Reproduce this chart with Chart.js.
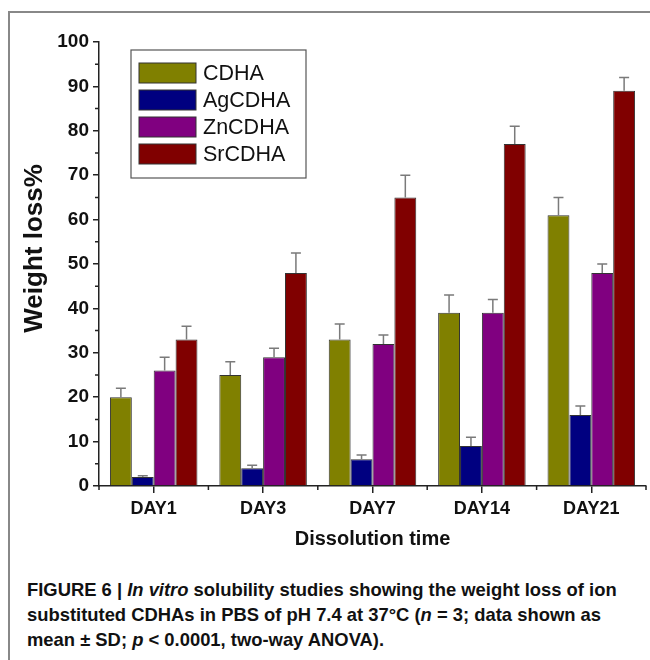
<!DOCTYPE html>
<html>
<head>
<meta charset="utf-8">
<script src="https://cdn.jsdelivr.net/npm/chart.js@4.4.1/dist/chart.umd.min.js"></script>
<style>
  body { margin: 0; background: #fff; }
  #frame { position: absolute; left: 8px; top: 11px; width: 660px; height: 660px;
           border-top: 2px solid #888; border-left: 2px solid #888; }
  #wrap { position: absolute; left: 0; top: 0; width: 650px; height: 560px; }
  #caption { position: absolute; left: 27px; top: 577px; width: 625px;
             font-family: "Liberation Sans", Arial, sans-serif; font-weight: bold;
             font-size: 18.4px; line-height: 25px; color: #111; white-space: nowrap; }
</style>
</head>
<body>
<div id="frame"></div>
<div id="wrap"><canvas id="context"></canvas></div>
<div id="caption">FIGURE 6 | <i>In vitro</i> solubility studies showing the weight loss of ion<br>substituted CDHAs in PBS of pH 7.4 at 37°C (<i>n</i> = 3; data shown as<br>mean ± SD; <i>p</i> &lt; 0.0001, two-way ANOVA).</div>
<script>
const days = ["DAY1", "DAY3", "DAY7", "DAY14", "DAY21"];
const cdha   = [20, 25, 33, 39, 61];
const agcdha = [2, 4, 6, 9, 16];
const zncdha = [26, 29, 32, 39, 48];
const srcdha = [33, 48, 65, 77, 89];
const cdhaSd   = [2, 3, 3.5, 4, 4];
const agcdhaSd = [0.3, 0.7, 1, 2, 2];
const zncdhaSd = [3, 2, 2, 3, 2];
const srcdhaSd = [3, 4.5, 5, 4, 3];
const yTitle = "Weight loss%";

const fnt = '"Liberation Sans", Arial, sans-serif';

// error bars, only the upper half like in the figure
const errBars = {
  id: 'errBars',
  afterDatasetsDraw(chart) {
    let c = chart.ctx, y = chart.scales.y;
    c.save();
    c.strokeStyle = '#7a7a7a';
    c.lineWidth = 1.5;
    chart.data.datasets.forEach((ds, i) => {
      let meta = chart.getDatasetMeta(i);
      meta.data.forEach((bar, j) => {
        let top = y.getPixelForValue(ds.data[j] + ds.sd[j]);
        c.beginPath();
        c.moveTo(bar.x, bar.y);
        c.lineTo(bar.x, top);
        c.moveTo(bar.x - 5, top);
        c.lineTo(bar.x + 5, top);
        c.stroke();
      });
    });
    c.restore();
  }
};

// minor ticks: between categories on x, at the 5s on y
const minorTicks = {
  id: 'minorTicks',
  afterDraw(chart) {
    let c = chart.ctx, x = chart.scales.x, y = chart.scales.y, a = chart.chartArea;
    c.save();
    c.strokeStyle = '#222';
    c.lineWidth = 1.5;
    c.beginPath();
    for (let i = 0; i <= days.length; i++) {
      let px = x.getPixelForValue(i - 0.5);
      c.moveTo(px, a.bottom);
      c.lineTo(px, a.bottom + 4);
    }
    for (let v = 5; v < 100; v += 10) {
      let py = y.getPixelForValue(v);
      c.moveTo(a.left, py);
      c.lineTo(a.left - 4, py);
    }
    c.stroke();
    // y title sits a bit above the axis middle in the figure
    c.translate(35, y.getPixelForValue(53.5));
    c.rotate(-Math.PI / 2);
    c.font = 'bold 26px ' + fnt;
    c.fillStyle = '#111';
    c.textAlign = 'center';
    c.textBaseline = 'middle';
    c.fillText(yTitle, 0, 0);
    c.restore();
  }
};

// boxed legend inside the plot
const boxLegend = {
  id: 'boxLegend',
  afterDraw(chart) {
    let c = chart.ctx, a = chart.chartArea;
    let lx = a.left + 32, ly = a.top + 8;
    c.save();
    c.fillStyle = '#fff';
    c.fillRect(lx, ly, 175, 128);
    c.strokeStyle = '#555';
    c.lineWidth = 1.2;
    c.strokeRect(lx, ly, 175, 128);
    c.font = '21.5px ' + fnt;
    c.textBaseline = 'middle';
    chart.data.datasets.forEach((ds, i) => {
      let ry = ly + 23 + i * 27;
      c.fillStyle = ds.backgroundColor;
      c.fillRect(lx + 8, ry - 10, 57, 20);
      c.strokeStyle = '#333';
      c.lineWidth = 1;
      c.strokeRect(lx + 8, ry - 10, 57, 20);
      c.fillStyle = '#111';
      c.fillText(ds.label, lx + 72, ry + 1);
    });
    c.restore();
  }
};

function makeSet(label, data, sd, color) {
  return { label: label, data: data, sd: sd, backgroundColor: color,
           borderColor: '#333', borderWidth: 1,
           categoryPercentage: 0.8, barPercentage: 1.0 };
}

const ctx = document.getElementById('context');
new Chart(ctx, {
  type: 'bar',
  data: {
    labels: days,
    datasets: [
      makeSet('CDHA', cdha, cdhaSd, '#808000'),
      makeSet('AgCDHA', agcdha, agcdhaSd, '#000080'),
      makeSet('ZnCDHA', zncdha, zncdhaSd, '#800080'),
      makeSet('SrCDHA', srcdha, srcdhaSd, '#800000')
    ]
  },
  options: {
    responsive: true,
    maintainAspectRatio: false,
    animation: false,
    layout: { padding: { top: 42, right: 4, left: 0, bottom: 0 } },
    plugins: { legend: { display: false }, tooltip: { enabled: false } },
    scales: {
      x: {
        afterFit: (s) => { s.height = 74; },
        grid: { display: true, drawOnChartArea: false, offset: false, tickLength: 7,
                color: '#222', lineWidth: 1.5 },
        border: { color: '#222', width: 1.5 },
        ticks: { color: '#111', padding: 5, font: { family: fnt, size: 18, weight: 'bold' } },
        title: { display: true, text: 'Dissolution time', color: '#111',
                 padding: { top: 4, bottom: 9 }, font: { family: fnt, size: 20, weight: 'bold' } }
      },
      y: {
        min: 0, max: 100,
        afterFit: (s) => { s.width = 99; },
        grid: { display: true, drawOnChartArea: false, tickLength: 6, color: '#222', lineWidth: 1.5 },
        border: { color: '#222', width: 1.5 },
        ticks: { stepSize: 10, color: '#111', padding: 4, font: { family: fnt, size: 19, weight: 'bold' } },
        title: { display: false }
      }
    }
  },
  plugins: [errBars, minorTicks, boxLegend]
});
</script>
</body>
</html>
